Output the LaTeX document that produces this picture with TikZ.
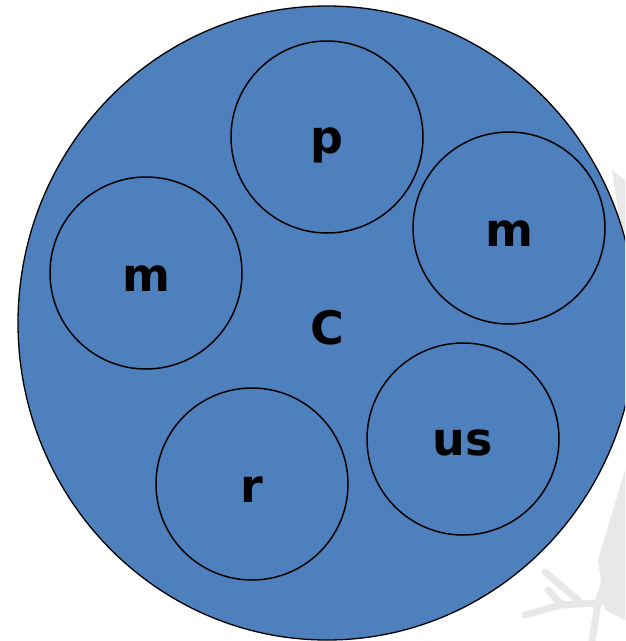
\documentclass[tikz,border=0pt]{standalone}
\usepackage{fontspec}
\setmainfont{DejaVu Sans}
\usetikzlibrary{shapes.geometric}
\definecolor{cblue}{RGB}{78,128,189}
\definecolor{wgray}{RGB}{232,232,232}
\begin{document}
\begin{tikzpicture}[x=1pt,y=-1pt,
  inner/.style={circle,draw=black,line width=1.5pt,minimum size=192pt,inner sep=0pt},
  lbl/.style={font=\bfseries\fontsize{46}{46}\selectfont,text=black},
  wm/.style={draw=wgray,line width=7pt,line cap=round,line join=round}]
\useasboundingbox (0,0) rectangle (625,641);
\begin{scope}
\clip (0,0) rectangle (625,641);
% faint watermark sketch
\fill[wgray] (598,560) -- (625,470) -- (625,620) -- (605,610) -- cycle;
\fill[wgray] (612,170) -- (625,180) -- (625,260) -- cycle;
\draw[wm] (525,615) -- (560,605) -- (598,603) -- (625,592);
\draw[wm] (548,590) -- (562,605);
\draw[wm] (545,572) -- (578,600);
\draw[wm] (598,603) -- (610,565);
\draw[wm] (592,641) -- (598,603);
\node[ellipse,draw=black,fill=cblue,line width=1.3pt,minimum width=618pt,minimum height=634pt,inner sep=0pt] (C) at (327,323) {};
\end{scope}
\node[inner] (p) at (327,137) {};
\node[inner] (m1) at (509,228) {};
\node[inner] (m2) at (146,273) {};
\node[inner] (us) at (463,439) {};
\node[inner] (r) at (252,484) {};
\node[lbl] (tp) at (327,145) {p};
\node[lbl] (tm1) at (509,234) {m};
\node[lbl] (tm2) at (146,279) {m};
\node[lbl] (tus) at (463,443) {us};
\node[lbl] (tr) at (252,490) {r};
\node[lbl] (tc) at (327,328) {C};
\end{tikzpicture}
\end{document}
